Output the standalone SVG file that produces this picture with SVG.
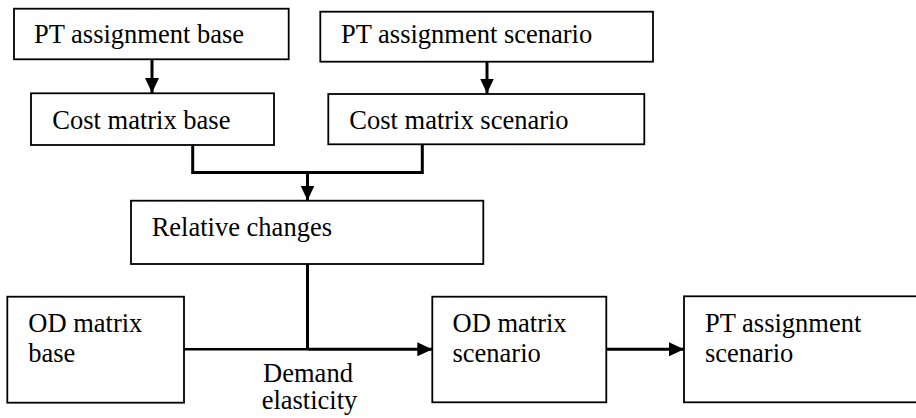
<svg xmlns="http://www.w3.org/2000/svg" width="916" height="418" viewBox="0 0 916 418">
<style>
.box{fill:#fff;stroke:#000;stroke-width:1.8}
.t{font-family:"Liberation Serif","Times New Roman",serif;font-size:26.5px;fill:#000}
.c{fill:none;stroke:#000;stroke-width:3}
.thin{stroke-width:2.4}
</style>
<defs>
<marker id="ah" viewBox="0 0 15 14" refX="15" refY="7" markerWidth="15" markerHeight="14" markerUnits="userSpaceOnUse" orient="auto">
<path d="M0,0 L15,7 L0,14 z" fill="#000"/>
</marker>
</defs>
<rect width="916" height="418" fill="#fff"/>
<g id="connectors">
<path class="c" d="M152,60 V93" marker-end="url(#ah)"/>
<path class="c" d="M487,62 V93.5" marker-end="url(#ah)"/>
<path class="c" d="M192.7,145 V172.5 H422.3 V144.3"/>
<path class="c" d="M307.5,172.5 V200.5" marker-end="url(#ah)"/>
<path class="c" d="M307.5,264 V349.3"/>
<path class="c thin" d="M184,349.3 H307.5"/>
<path class="c" d="M307.5,349.3 H432.3" marker-end="url(#ah)"/>
<path class="c" d="M606.3,349.3 H684" marker-end="url(#ah)"/>
</g>
<g id="pt-base">
<rect class="box" x="14" y="8.7" width="274.7" height="50.6"/>
<text class="t" x="34" y="42.7">PT assignment base</text>
</g>
<g id="pt-scenario">
<rect class="box" x="320.3" y="11.7" width="332.7" height="50"/>
<text class="t" x="341" y="43.3">PT assignment scenario</text>
</g>
<g id="cost-base">
<rect class="box" x="31" y="93.3" width="243" height="51.7"/>
<text class="t" x="52.3" y="129">Cost matrix base</text>
</g>
<g id="cost-scenario">
<rect class="box" x="328.3" y="94" width="316" height="50.3"/>
<text class="t" x="349.3" y="129">Cost matrix scenario</text>
</g>
<g id="relative-changes">
<rect class="box" x="131" y="200.7" width="352.3" height="63.3"/>
<text class="t" x="151.7" y="236">Relative changes</text>
</g>
<g id="od-base">
<rect class="box" x="7.3" y="296.7" width="176.7" height="106"/>
<text class="t" x="28.3" y="332.3">OD matrix</text>
<text class="t" x="28.3" y="361.7">base</text>
</g>
<g id="demand-elasticity">
<text class="t" x="308" y="381.7" text-anchor="middle">Demand</text>
<text class="t" x="309.5" y="409.3" text-anchor="middle">elasticity</text>
</g>
<g id="od-scenario">
<rect class="box" x="432.3" y="296.7" width="174" height="105.6"/>
<text class="t" x="452.5" y="332.3">OD matrix</text>
<text class="t" x="452.5" y="361.7">scenario</text>
</g>
<g id="pt-assign-scenario">
<rect class="box" x="684" y="296.3" width="240" height="106"/>
<text class="t" x="705" y="331.7">PT assignment</text>
<text class="t" x="705" y="361.7">scenario</text>
</g>
</svg>
